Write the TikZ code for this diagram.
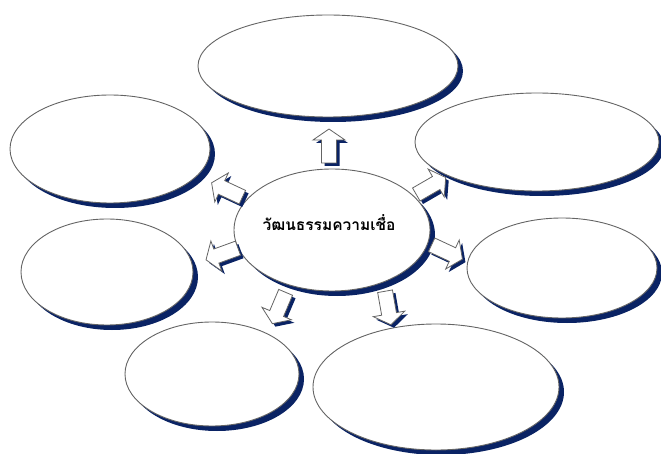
\documentclass[tikz,border=0pt]{standalone}
\usepackage{fontspec}
\newfontfamily\thaifont[Script=Thai]{Loma}
\usetikzlibrary{shapes.geometric,shadows}
\definecolor{navy}{RGB}{10,35,100}
\definecolor{rim}{RGB}{100,100,100}
\tikzset{
  bubble/.style={ellipse, draw=rim, line width=0.9pt, fill=white, inner sep=0pt,
    drop shadow={shadow xshift=5pt, shadow yshift=-5pt, fill=navy, opacity=1}},
  arrowshade/.style={fill=navy},
  arrowbody/.style={fill=white, draw=rim, line width=0.8pt, line join=miter},
}
\newcommand{\blockarrowpath}{(-17,-7.5) -- (6,-7.5) -- (6,-16) -- (17,0) -- (6,16) -- (6,7.5) -- (-17,7.5) -- cycle}
\newcommand{\blockarrow}[4]{%
  \coordinate (#1) at (#2,#3);
  \fill[arrowshade, shift={(#1)}, shift={(3,3)}, rotate=#4] \blockarrowpath;
  \filldraw[arrowbody, shift={(#1)}, rotate=#4] \blockarrowpath;
}
\begin{document}
\begin{tikzpicture}[x=1pt,y=-1pt]
\useasboundingbox (0,0) rectangle (661,454);
\node[bubble, minimum width=260pt, minimum height=102pt] (top) at (328,66) {};
\node[bubble, minimum width=200pt, minimum height=108pt] (ul) at (110,149) {};
\node[bubble, minimum width=244pt, minimum height=98pt] (ur) at (537,142) {};
\node[bubble, minimum width=172pt, minimum height=106pt] (ml) at (107,272) {};
\node[bubble, minimum width=190pt, minimum height=100pt] (mr) at (562,268) {};
\node[bubble, minimum width=174pt, minimum height=104pt] (ll) at (212,374) {};
\node[bubble, minimum width=246pt, minimum height=126pt] (lr) at (436,387) {};
\node[bubble, minimum width=196pt, minimum height=122pt] (c) at (332,230) {};
\node[font=\thaifont\bfseries\fontsize{15.5}{18}\selectfont] (label) at (329,223) {วัฒนธรรมความเชื่อ};
\blockarrow{a1}{329}{146}{90}
\blockarrow{a2}{227}{190}{155}
\blockarrow{a3}{222}{254}{200}
\blockarrow{a4}{431}{186}{30}
\blockarrow{a5}{447}{252}{-25}
\blockarrow{a6}{279}{308}{-113}
\blockarrow{a7}{388}{308}{-80}
\end{tikzpicture}
\end{document}
